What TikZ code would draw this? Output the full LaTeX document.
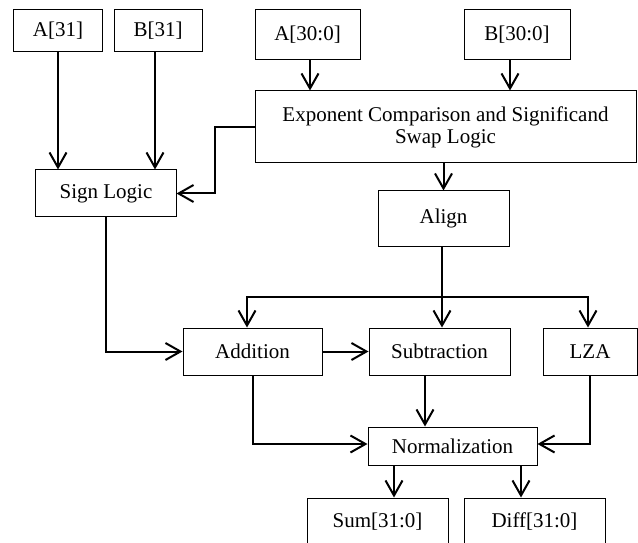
\documentclass[tikz,border=0pt]{standalone}
\usepackage{fontspec}
\setmainfont{Liberation Serif}
\usetikzlibrary{arrows.meta}
\tikzset{
  blk/.style={draw, line width=1bp, rectangle, inner sep=0pt, align=center,
    font=\fontsize{21bp}{22bp}\selectfont},
  conn/.style={line width=2bp},
  arr/.style={conn, -{Straight Barb[length=15bp,width=17bp]}},
}
\begin{document}
\begin{tikzpicture}[x=1bp,y=-1bp]
\clip (0,0) rectangle (638,543);
\fill[white] (0,0) rectangle (638,543);
% nodes
\node[blk, minimum width=88bp, minimum height=42bp] (A31) at (58,31) {A[31]};
\node[blk, minimum width=88bp, minimum height=42bp] (B31) at (158,31) {B[31]};
\node[blk, minimum width=105bp, minimum height=50bp] (A30) at (307.5,35) {A[30:0]};
\node[blk, minimum width=106bp, minimum height=50bp] (B30) at (517,35) {B[30:0]};
\node[blk, minimum width=381bp, minimum height=72bp] (Exp) at (445.5,127) {Exponent Comparison and Significand\\Swap Logic};
\node[blk, minimum width=140bp, minimum height=47bp] (Sign) at (106,193.5) {Sign Logic};
\node[blk, minimum width=131bp, minimum height=55bp] (Align) at (443.5,218.5) {Align};
\node[blk, minimum width=139bp, minimum height=47bp] (Add) at (252.5,351.5) {Addition};
\node[blk, minimum width=141bp, minimum height=47bp] (Sub) at (439.5,351.5) {Subtraction};
\node[blk, minimum width=94bp, minimum height=47bp] (LZA) at (590,351.5) {LZA};
\node[blk, minimum width=169bp, minimum height=38bp] (Norm) at (452.5,446) {Normalization};
\node[blk, minimum width=141bp, minimum height=48bp] (Sum) at (377.5,522) {Sum[31:0]};
\node[blk, minimum width=141bp, minimum height=48bp] (Diff) at (534.5,522) {Diff[31:0]};
\coordinate (J) at (442,297);
% connectors
\draw[arr] (A31.south) -- (A31.south |- Sign.north);
\draw[arr] ([xshift=-3bp]B31.south) -- ([xshift=-3bp]B31.south |- Sign.north);
\draw[arr] ([xshift=2.5bp]A30.south) -- ([xshift=2.5bp]A30.south |- Exp.north);
\draw[arr] ([xshift=-7bp]B30.south) -- ([xshift=-7bp]B30.south |- Exp.north);
\draw[arr] (Exp.west) -- ++(-40,0) |- (Sign.east);
\draw[arr] (Exp.south -| Align.north) -- (Align.north);
\draw[conn] (Align.south -| J) -- (J);
\draw[arr] (J) -- (J |- Sub.north);
\draw[arr] (J) -| ([xshift=-5.5bp]Add.north);
\draw[arr] (J) -| ([xshift=-2bp]LZA.north);
\draw[arr] (Sign.south) |- (Add.west);
\draw[arr] (Add.east) -- (Sub.west);
\draw[arr] (Add.south) |- ([yshift=2bp]Norm.west);
\draw[arr] ([xshift=-14.5bp]Sub.south) -- ([xshift=-14.5bp]Sub.south |- Norm.north);
\draw[arr] (LZA.south) |- ([yshift=2bp]Norm.east);
\draw[arr] ([xshift=-58.5bp]Norm.south) -- ([xshift=-58.5bp]Norm.south |- Sum.north);
\draw[arr] ([xshift=68.5bp]Norm.south) -- ([xshift=68.5bp]Norm.south |- Diff.north);
\end{tikzpicture}
\end{document}
